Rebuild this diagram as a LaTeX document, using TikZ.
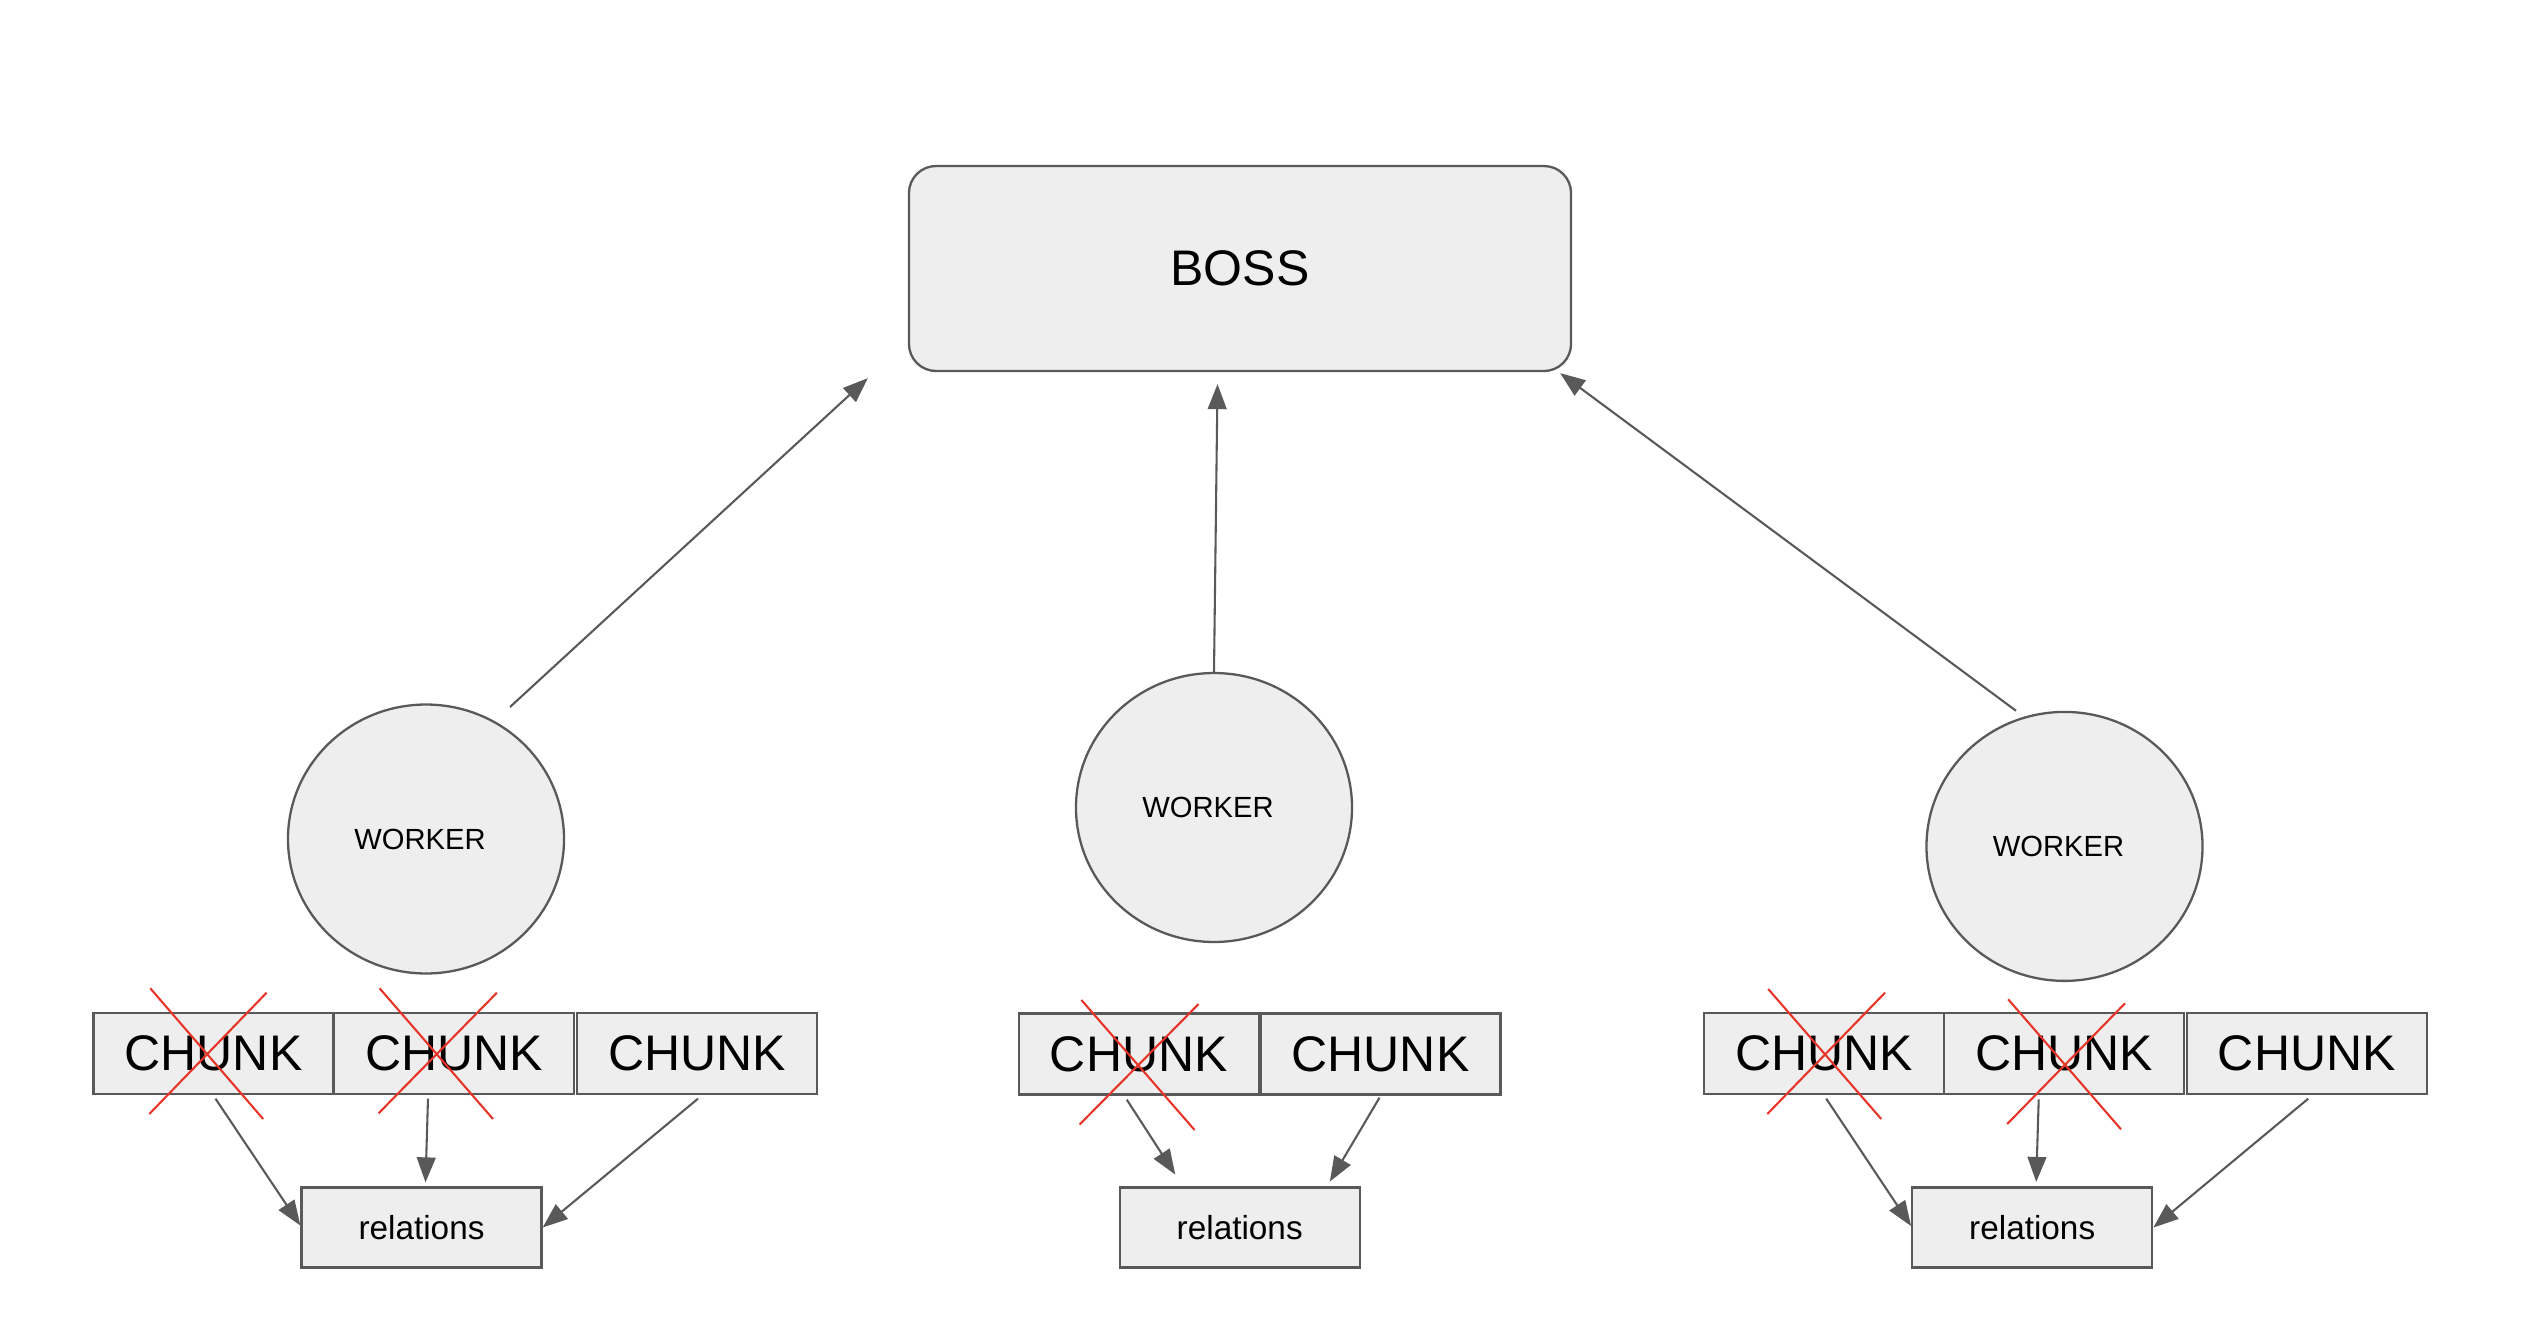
\documentclass[tikz,border=0pt]{standalone}
\usepackage{fontspec}
\setmainfont{Liberation Sans}
\usetikzlibrary{arrows.meta,calc,shapes.geometric}
\definecolor{lc}{HTML}{595959}
\definecolor{fc}{HTML}{EEEEEE}
\definecolor{xred}{RGB}{231,52,40}
\begin{document}
\begin{tikzpicture}[x=0.48pt,y=-0.48pt,
  boxbase/.style={draw=lc,fill=fc,line width=1.1pt,inner sep=0pt},
  bossbox/.style={boxbase,rounded corners=13pt,minimum width=317.8pt,minimum height=98.4pt,font=\fontsize{24}{28}\selectfont},
  chunkbox/.style={boxbase,minimum width=115.2pt,minimum height=38.9pt,font=\fontsize{24}{28}\selectfont},
  relbox/.style={boxbase,minimum width=115.2pt,minimum height=38.4pt,font=\fontsize{16}{19}\selectfont},
  workernode/.style={boxbase,ellipse,minimum width=132.5pt,minimum height=129.1pt,font=\fontsize{14}{17}\selectfont},
  arr/.style={draw=lc,line width=1pt,-{Triangle[length=12pt,width=9pt]}},
  xline/.style={draw=xred,line width=1pt}]
\useasboundingbox (0,0) rectangle (2532,1330);

% boss
\node[bossbox] (boss) at (1240,268.5) {BOSS};

% workers
\node[workernode] (WL) at (426,839) {WORKER\kern5.8pt};
\node[workernode] (WM) at (1214,807.5) {WORKER\kern5.8pt};
\node[workernode] (WR) at (2064.5,846.4) {WORKER\kern5.8pt};

% chunks
\node[chunkbox] (L1) at (213.5,1053.7) {CHUNK};
\node[chunkbox] (L2) at (454,1053.7) {CHUNK};
\node[chunkbox] (L3) at (697,1053.7) {CHUNK};
\node[chunkbox] (M1) at (1138.8,1054) {CHUNK};
\node[chunkbox] (M2) at (1380.5,1054) {CHUNK};
\node[chunkbox] (R1) at (1824.2,1053.7) {CHUNK};
\node[chunkbox] (R2) at (2064.2,1053.7) {CHUNK};
\node[chunkbox] (R3) at (2306.8,1053.7) {CHUNK};

% relations
\node[relbox] (LR) at (421.5,1227.5) {relations};
\node[relbox] (MR) at (1239.7,1227.5) {relations};
\node[relbox] (RR) at (2032.2,1227.5) {relations};

% worker -> boss
\coordinate (wls) at ($(WL.center)+(84,-132)$);
\coordinate (wle) at ($(boss.south west)+(-40,6)$);
\coordinate (wme) at ($(boss.south)+(-22.5,12)$);
\coordinate (wrs) at ($(WR.north)+(-48.5,0)$);
\coordinate (wre) at ($(boss.south east)+(-12,1)$);
\draw[arr] (wls) -- (wle);
\draw[arr] (WM.north) -- (wme);
\draw[arr] (wrs) -- (wre);

% chunk -> relations
\draw[arr] ($(L1.south)+(2,3.3)$) -- ($(LR.west)+(0,-2)$);
\draw[arr] ($(L2.south)+(-26,3.3)$) -- ($(LR.north)+(4,-4)$);
\draw[arr] ($(L3.south)+(1,3.3)$) -- (LR.east);
\draw[arr] ($(M1.south)+(-12,4)$) -- ($(MR.north west)+(56.7,-11.8)$);
\draw[arr] ($(M2.south)+(-1,2)$) -- ($(MR.north east)+(-31,-4.8)$);
\draw[arr] ($(R1.south)+(2,3.3)$) -- ($(RR.west)+(0,-1.5)$);
\draw[arr] ($(R2.south)+(-25.5,4)$) -- ($(RR.north)+(4,-4.4)$);
\draw[arr] ($(R3.south)+(1.4,3.3)$) -- (RR.east);

% red crosses
\draw[xline] (150.3,988.3) -- (263.2,1119);
\draw[xline] (266.6,992.7) -- (149.3,1114);
\draw[xline] (379.6,988.3) -- (493,1119);
\draw[xline] (496.9,992.7) -- (378.6,1113.3);
\draw[xline] (1081.4,1000) -- (1194.6,1130);
\draw[xline] (1198.6,1004) -- (1079.6,1124.5);
\draw[xline] (1768.2,989) -- (1881.2,1119);
\draw[xline] (1885,992.7) -- (1767.3,1114);
\draw[xline] (2008.2,999.3) -- (2121,1129.3);
\draw[xline] (2125,1003.3) -- (2007.2,1124);
\end{tikzpicture}
\end{document}
